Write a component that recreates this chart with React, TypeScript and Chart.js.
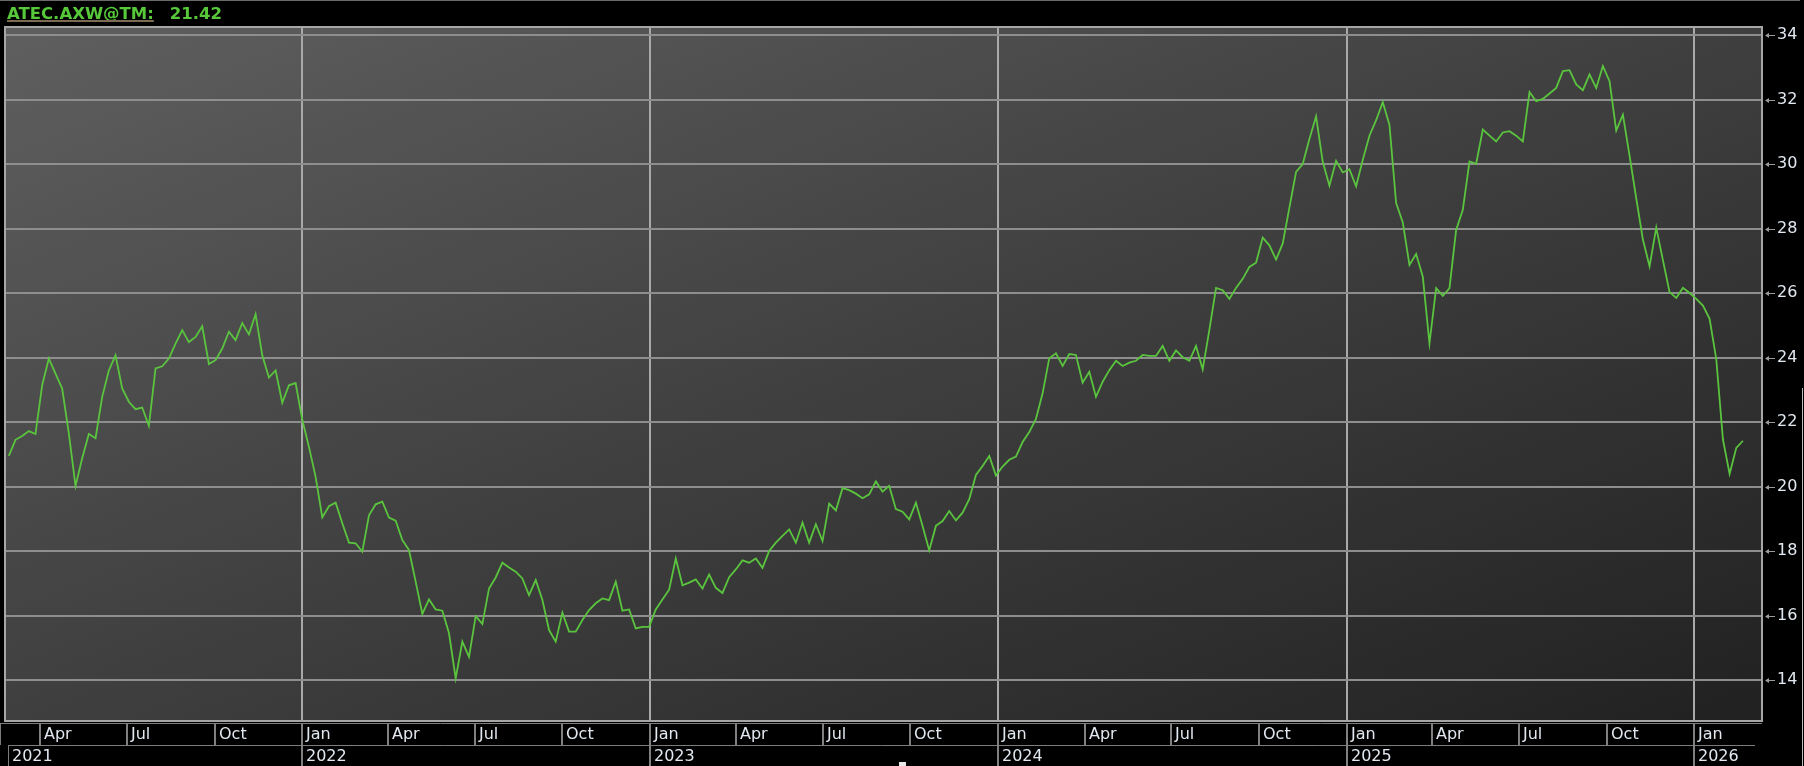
import React, { useEffect, useRef } from "react";
import { Chart, registerables } from "chart.js";

Chart.register(...registerables);

// ---- data ----
const TICKER = "ATEC.AXW@TM:";
const LAST_PRICE = "21.42";
const BASE_YEAR = 2021; // x values are days since 1 Jan 2021
const START_DAY = 57; // first weekly close (late Feb 2021)
const STEP_DAYS = 7;
const X_MIN = 53;
const X_MAX = 1897;
const Y_MIN = 12.73;
const Y_MAX = 34.25;
const Y_TICKS = [14, 16, 18, 20, 22, 24, 26, 28, 30, 32, 34];
const MONTH_LABELS = ["Jan", "Apr", "Jul", "Oct"];
const YEARS = [2021, 2022, 2023, 2024, 2025, 2026];

const prices2021 = [
  20.95, 21.45, 21.57, 21.72, 21.63, 23.14, 23.97, 23.5, 23.04, 21.65, 20.02,
  20.88, 21.63, 21.5, 22.78, 23.6, 24.07, 23.04, 22.63, 22.4, 22.45, 21.88,
  23.66, 23.73, 23.97, 24.43, 24.85, 24.48, 24.64, 24.97, 23.8, 23.92, 24.28,
  24.8, 24.54, 25.07, 24.72, 25.34, 24.07, 23.38, 23.6, 22.6, 23.14, 23.21,
];
const prices2022 = [
  22.07, 21.23, 20.3, 19.04, 19.39, 19.5, 18.86, 18.26, 18.24, 17.98, 19.11,
  19.45, 19.53, 19.04, 18.94, 18.34, 18.03, 17.05, 16.05, 16.5, 16.19, 16.15,
  15.45, 14.05, 15.19, 14.72, 15.98, 15.74, 16.84, 17.18, 17.64, 17.49, 17.36,
  17.15, 16.63, 17.1, 16.48, 15.55, 15.19, 16.09, 15.5, 15.5, 15.86, 16.17,
  16.38, 16.53, 16.48, 17.05, 16.15, 16.19, 15.6, 15.65, 15.65,
];
const prices2023 = [
  16.19, 16.5, 16.8, 17.77, 16.94, 17.02, 17.12, 16.84, 17.27, 16.86, 16.7,
  17.19, 17.43, 17.71, 17.64, 17.77, 17.48, 18.0, 18.26, 18.47, 18.67, 18.26,
  18.88, 18.26, 18.83, 18.31, 19.47, 19.26, 19.95, 19.89, 19.78, 19.64, 19.76,
  20.16, 19.84, 20.02, 19.3, 19.22, 18.98, 19.5, 18.78, 18.02, 18.78, 18.93,
  19.24, 18.95, 19.19, 19.61, 20.36, 20.64, 20.95, 20.34,
];
const prices2024 = [
  20.62, 20.83, 20.93, 21.38, 21.69, 22.1, 22.89, 23.98, 24.13, 23.74, 24.11,
  24.08, 23.22, 23.56, 22.78, 23.25, 23.61, 23.9, 23.74, 23.84, 23.9, 24.08,
  24.05, 24.05, 24.36, 23.9, 24.22, 24.01, 23.9, 24.36, 23.63, 24.86, 26.16,
  26.09, 25.82, 26.16, 26.44, 26.81, 26.94, 27.72, 27.48, 27.04, 27.54, 28.65,
  29.76, 30.0, 30.78, 31.48, 30.07, 29.33, 30.1, 29.74,
];
const prices2025 = [
  29.84, 29.31, 30.13, 30.88, 31.36, 31.92, 31.22, 28.79, 28.19, 26.87, 27.21,
  26.51, 24.44, 26.15, 25.91, 26.15, 27.96, 28.58, 30.08, 30.01, 31.07, 30.88,
  30.7, 30.98, 31.02, 30.88, 30.7, 32.23, 31.95, 32.02, 32.19, 32.36, 32.88,
  32.91, 32.47, 32.29, 32.78, 32.36, 33.04, 32.57, 31.04, 31.53, 30.26, 28.94,
  27.66, 26.83, 28.03, 27.02, 26.03, 25.85, 26.16, 26.0,
];
const prices2026 = [25.82, 25.61, 25.2, 23.95, 21.46, 20.39, 21.2, 21.42];

// ---- helpers ----
const DAY_MS = 86400000;
const dayOf = (y: number, m: number) =>
  (Date.UTC(y, m, 1) - Date.UTC(BASE_YEAR, 0, 1)) / DAY_MS;

const W = 1804;
const H = 766;
const TEXT_COLOR = "#e2e8f0";
const AXIS_FONT = '16px "DejaVu Sans"';

const decorPlugin = {
  id: "decor",
  beforeDraw(chart: any) {
    const { ctx, chartArea: a } = chart;
    ctx.save();
    ctx.fillStyle = "#000";
    ctx.fillRect(0, 0, chart.width, chart.height);
    const w = a.right - a.left;
    const h = a.bottom - a.top;
    const k = (2 * w * h) / (w * w + h * h);
    const g = ctx.createLinearGradient(a.left, a.top, a.left + h * k, a.top + w * k);
    g.addColorStop(0, "#5f5f5f");
    g.addColorStop(0.5, "#3f3f3f");
    g.addColorStop(1, "#212121");
    ctx.fillStyle = g;
    ctx.fillRect(a.left, a.top, w, h);
    ctx.restore();
  },
  afterDraw(chart: any) {
    const { ctx, chartArea: a } = chart;
    const xs = chart.scales.x;
    const ys = chart.scales.y;
    ctx.save();

    // frame
    ctx.strokeStyle = "#a6a6a6";
    ctx.lineWidth = 2;
    ctx.strokeRect(a.left, a.top, a.right - a.left, a.bottom - a.top);

    // top thin line
    ctx.fillStyle = "#6a6a6a";
    ctx.fillRect(0, 0, 1800, 1);

    // right axis arrow markers
    ctx.strokeStyle = "#9a9a9a";
    ctx.fillStyle = "#9a9a9a";
    ctx.lineWidth = 1;
    for (const v of Y_TICKS) {
      const py = Math.round(ys.getPixelForValue(v)) + 0.5;
      ctx.beginPath();
      ctx.moveTo(a.right + 6, py);
      ctx.lineTo(a.right + 13, py);
      ctx.stroke();
      ctx.beginPath();
      ctx.moveTo(a.right + 3, py);
      ctx.lineTo(a.right + 7, py - 2.5);
      ctx.lineTo(a.right + 7, py + 2.5);
      ctx.closePath();
      ctx.fill();
    }

    // bottom axis rows
    const rowTop = a.bottom + 2;
    const rowMid = a.bottom + 24;
    const rowBot = H;
    ctx.strokeStyle = "#7c7c7c";
    ctx.lineWidth = 1;
    ctx.beginPath();
    ctx.moveTo(0, rowTop + 0.5);
    ctx.lineTo(a.right, rowTop + 0.5);
    ctx.moveTo(0.5, rowTop);
    ctx.lineTo(0.5, rowMid);
    ctx.stroke();
    ctx.beginPath();
    ctx.moveTo(8, rowMid + 0.5);
    ctx.lineTo(a.right - 7, rowMid + 0.5);
    ctx.moveTo(8.5, rowMid);
    ctx.lineTo(8.5, rowBot);
    ctx.stroke();

    ctx.font = AXIS_FONT;
    ctx.fillStyle = TEXT_COLOR;
    ctx.textBaseline = "middle";
    ctx.textAlign = "left";
    ctx.lineWidth = 2;
    ctx.strokeStyle = "#808080";
    for (const y of YEARS) {
      for (let q = 0; q < 4; q++) {
        const d = dayOf(y, q * 3);
        if (d < X_MIN || d > X_MAX) continue;
        const px = Math.round(xs.getPixelForValue(d));
        ctx.beginPath();
        ctx.moveTo(px, rowTop);
        ctx.lineTo(px, rowMid);
        ctx.stroke();
        ctx.fillText(MONTH_LABELS[q], px + 4, rowTop + 12);
        if (q === 0) {
          ctx.beginPath();
          ctx.moveTo(px, rowMid);
          ctx.lineTo(px, rowBot);
          ctx.stroke();
          ctx.fillText(String(y), px + 4, rowMid + 12);
        }
      }
    }
    ctx.fillText(String(YEARS[0]), 12, rowMid + 12);

    // title
    ctx.font = 'bold 16.5px "DejaVu Sans"';
    ctx.textBaseline = "alphabetic";
    ctx.fillStyle = "#56c83a";
    ctx.fillText(TICKER, 7, 18.5);
    const tw = ctx.measureText(TICKER).width;
    ctx.fillText(LAST_PRICE, 7 + tw + 16, 18.5);
    ctx.fillStyle = "#7b6b52";
    ctx.fillRect(7, 20, tw, 2);

    // screen artifacts
    ctx.fillStyle = "#e8e8e8";
    ctx.fillRect(899, 762, 7, 4);
    ctx.fillStyle = "#bdbdbd";
    ctx.fillRect(1802, 388, 1, H - 388);

    ctx.restore();
  },
};

export default function App() {
  const ref = useRef<HTMLCanvasElement | null>(null);

  useEffect(() => {
    document.body.style.margin = "0";
    document.body.style.background = "#000";
    const canvas = ref.current;
    if (!canvas) return;
    const values = [
      ...prices2021,
      ...prices2022,
      ...prices2023,
      ...prices2024,
      ...prices2025,
      ...prices2026,
    ];
    const points = values.map((v, i) => ({ x: START_DAY + i * STEP_DAYS, y: v }));
    const yearStarts = YEARS.map((y) => dayOf(y, 0)).filter((d) => d >= X_MIN && d <= X_MAX);

    const chart = new Chart(canvas, {
      type: "line",
      data: {
        datasets: [
          {
            data: points,
            borderColor: "#5ac43e",
            borderWidth: 1.8,
            pointRadius: 0,
            tension: 0,
            fill: false,
          },
        ],
      },
      options: {
        responsive: false,
        animation: false,
        devicePixelRatio: 1,
        layout: { padding: { left: 5, top: 27, right: 0, bottom: 0 } },
        plugins: { legend: { display: false }, tooltip: { enabled: false } },
        scales: {
          x: {
            type: "linear",
            min: X_MIN,
            max: X_MAX,
            afterBuildTicks: (s: any) => {
              s.ticks = yearStarts.map((v) => ({ value: v }));
            },
            afterFit: (s: any) => {
              s.height = 45;
            },
            ticks: { display: false },
            grid: { color: "#a9a9a9", lineWidth: 2, drawTicks: false },
            border: { display: false },
          },
          y: {
            type: "linear",
            position: "right",
            min: Y_MIN,
            max: Y_MAX,
            afterBuildTicks: (s: any) => {
              s.ticks = Y_TICKS.map((v) => ({ value: v }));
            },
            afterFit: (s: any) => {
              s.width = 42;
            },
            ticks: {
              color: TEXT_COLOR,
              font: { family: "DejaVu Sans", size: 16 },
              padding: 15,
              callback: (v: any) => String(v),
            },
            grid: { color: "#8e8e8e", lineWidth: 2, drawTicks: false },
            border: { display: false },
          },
        },
      },
      plugins: [decorPlugin],
    });
    return () => chart.destroy();
  }, []);

  return (
    <canvas
      ref={ref}
      width={W}
      height={H}
      style={{ display: "block", width: W, height: H }}
    />
  );
}
